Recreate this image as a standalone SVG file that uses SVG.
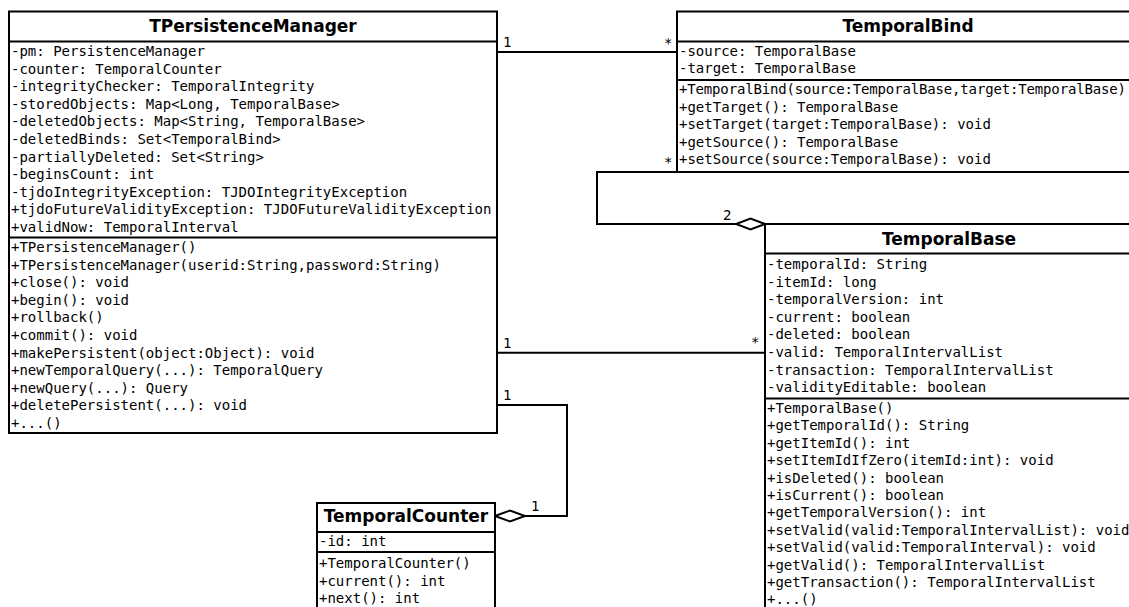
<svg xmlns="http://www.w3.org/2000/svg" width="1129" height="607" viewBox="0 0 1129 607">
<style>
.box{fill:#fff;stroke:#000;stroke-width:2}
.sep{stroke:#000;stroke-width:2}
.title{font-family:"DejaVu Sans",sans-serif;font-weight:bold;font-size:17px;text-anchor:middle;fill:#000}
.m{font-family:"DejaVu Sans Mono",monospace;font-size:14px;fill:#000}
.edge{fill:none;stroke:#000;stroke-width:2}
.dia{fill:#fff;stroke:#000;stroke-width:2}
</style>
<rect width="1129" height="607" fill="#fff"/>
<g id="connectors">
<polyline class="edge" points="497,52 677,52"/>
<polyline class="edge" points="677,172 597,172 597,224 736,224"/>
<polygon class="dia" points="765,224 750.5,218.5 736,224 750.5,229.5"/>
<polyline class="edge" points="497,352.7 765,352.7"/>
<polyline class="edge" points="497,405 567,405 567,516 525,516"/>
<polygon class="dia" points="495,516 510,510.5 525,516 510,521.5"/>
<text class="m" x="503" y="47">1</text>
<text class="m" x="664" y="48">*</text>
<text class="m" x="664" y="167">*</text>
<text class="m" x="723" y="220">2</text>
<text class="m" x="503" y="348">1</text>
<text class="m" x="751" y="347">*</text>
<text class="m" x="503" y="400">1</text>
<text class="m" x="531" y="511">1</text>
</g>
<g id="TPersistenceManager">
<rect class="box" x="9" y="11.5" width="488" height="421.5"/>
<line class="sep" x1="9" y1="41.5" x2="497" y2="41.5"/>
<line class="sep" x1="9" y1="237.5" x2="497" y2="237.5"/>
<text class="title" x="253" y="32">TPersistenceManager</text>
<text class="m" x="11" y="56">-pm: PersistenceManager</text>
<text class="m" x="11" y="73.6">-counter: TemporalCounter</text>
<text class="m" x="11" y="91.2">-integrityChecker: TemporalIntegrity</text>
<text class="m" x="11" y="108.8">-storedObjects: Map&lt;Long, TemporalBase&gt;</text>
<text class="m" x="11" y="126.4">-deletedObjects: Map&lt;String, TemporalBase&gt;</text>
<text class="m" x="11" y="144">-deletedBinds: Set&lt;TemporalBind&gt;</text>
<text class="m" x="11" y="161.6">-partiallyDeleted: Set&lt;String&gt;</text>
<text class="m" x="11" y="179.2">-beginsCount: int</text>
<text class="m" x="11" y="196.8">-tjdoIntegrityException: TJDOIntegrityException</text>
<text class="m" x="11" y="214.4">+tjdoFutureValidityException: TJDOFutureValidityException</text>
<text class="m" x="11" y="232">+validNow: TemporalInterval</text>
<text class="m" x="11" y="252">+TPersistenceManager()</text>
<text class="m" x="11" y="269.6">+TPersistenceManager(userid:String,password:String)</text>
<text class="m" x="11" y="287.2">+close(): void</text>
<text class="m" x="11" y="304.8">+begin(): void</text>
<text class="m" x="11" y="322.4">+rollback()</text>
<text class="m" x="11" y="340">+commit(): void</text>
<text class="m" x="11" y="357.6">+makePersistent(object:Object): void</text>
<text class="m" x="11" y="375.2">+newTemporalQuery(...): TemporalQuery</text>
<text class="m" x="11" y="392.8">+newQuery(...): Query</text>
<text class="m" x="11" y="410.4">+deletePersistent(...): void</text>
<text class="m" x="11" y="428">+...()</text>
</g>
<g id="TemporalBind">
<rect class="box" x="677" y="11.5" width="470" height="160.5"/>
<line class="sep" x1="677" y1="41.5" x2="1147" y2="41.5"/>
<line class="sep" x1="677" y1="80" x2="1147" y2="80"/>
<text class="title" x="908" y="32">TemporalBind</text>
<text class="m" x="679" y="55.5">-source: TemporalBase</text>
<text class="m" x="679" y="73">-target: TemporalBase</text>
<text class="m" x="679" y="94" textLength="447" lengthAdjust="spacing">+TemporalBind(source:TemporalBase,target:TemporalBase)</text>
<text class="m" x="679" y="111.6">+getTarget(): TemporalBase</text>
<text class="m" x="679" y="129.2">+setTarget(target:TemporalBase): void</text>
<text class="m" x="679" y="146.8">+getSource(): TemporalBase</text>
<text class="m" x="679" y="164.4">+setSource(source:TemporalBase): void</text>
</g>
<g id="TemporalBase">
<rect class="box" x="765" y="224" width="368" height="400"/>
<line class="sep" x1="765" y1="253.5" x2="1133" y2="253.5"/>
<line class="sep" x1="765" y1="398.5" x2="1133" y2="398.5"/>
<text class="title" x="949" y="244.5">TemporalBase</text>
<text class="m" x="767" y="269">-temporalId: String</text>
<text class="m" x="767" y="286.6">-itemId: long</text>
<text class="m" x="767" y="304.2">-temporalVersion: int</text>
<text class="m" x="767" y="321.8">-current: boolean</text>
<text class="m" x="767" y="339.4">-deleted: boolean</text>
<text class="m" x="767" y="357">-valid: TemporalIntervalList</text>
<text class="m" x="767" y="374.6">-transaction: TemporalIntervalList</text>
<text class="m" x="767" y="392.2">-validityEditable: boolean</text>
<text class="m" x="767" y="413">+TemporalBase()</text>
<text class="m" x="767" y="430.4">+getTemporalId(): String</text>
<text class="m" x="767" y="447.8">+getItemId(): int</text>
<text class="m" x="767" y="465.2">+setItemIdIfZero(itemId:int): void</text>
<text class="m" x="767" y="482.6">+isDeleted(): boolean</text>
<text class="m" x="767" y="500">+isCurrent(): boolean</text>
<text class="m" x="767" y="517.4">+getTemporalVersion(): int</text>
<text class="m" x="767" y="534.8">+setValid(valid:TemporalIntervalList): void</text>
<text class="m" x="767" y="552.2">+setValid(valid:TemporalInterval): void</text>
<text class="m" x="767" y="569.6">+getValid(): TemporalIntervalList</text>
<text class="m" x="767" y="587">+getTransaction(): TemporalIntervalList</text>
<text class="m" x="767" y="604.2">+...()</text>
</g>
<g id="TemporalCounter">
<rect class="box" x="317" y="503" width="178" height="120"/>
<line class="sep" x1="317" y1="532" x2="495" y2="532"/>
<line class="sep" x1="317" y1="552" x2="495" y2="552"/>
<text class="title" x="406" y="521.5">TemporalCounter</text>
<text class="m" x="319" y="546">-id: int</text>
<text class="m" x="319" y="568">+TemporalCounter()</text>
<text class="m" x="319" y="585.5">+current(): int</text>
<text class="m" x="319" y="603">+next(): int</text>
</g>
</svg>
